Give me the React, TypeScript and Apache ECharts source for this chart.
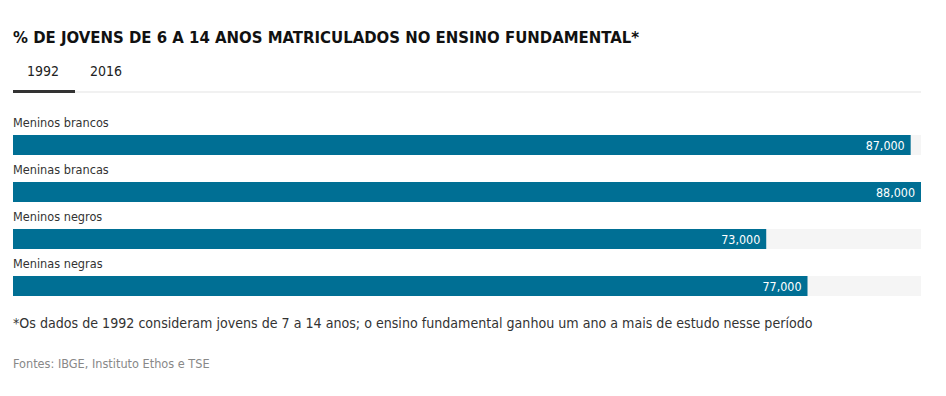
import React, { useEffect, useRef } from "react";
import * as echarts from "echarts";

const categories = ["Meninos brancos", "Meninas brancas", "Meninos negros", "Meninas negras"];
const values1992 = [87, 88, 73, 77];
const tabLabels = ["1992", "2016"];
const titleText = "% DE JOVENS DE 6 A 14 ANOS MATRICULADOS NO ENSINO FUNDAMENTAL*";
const noteText = "*Os dados de 1992 consideram jovens de 7 a 14 anos; o ensino fundamental ganhou um ano a mais de estudo nesse período";
const sourceText = "Fontes: IBGE, Instituto Ethos e TSE";
const xMax = 88;

const FONT = "'DejaVu Sans Condensed', 'Liberation Sans Narrow', 'Noto Sans', sans-serif";

export default function App() {
  const ref = useRef<HTMLDivElement>(null);
  useEffect(() => {
    if (!ref.current) return;
    const chart = echarts.init(ref.current, null, { renderer: "svg" });
    chart.setOption({
      animation: false,
      textStyle: { fontFamily: FONT },
      grid: { left: 13, right: 25, top: 121.5, bottom: 396 - 309.5, containLabel: false },
      xAxis: { type: "value", min: 0, max: xMax, show: false },
      yAxis: {
        type: "category",
        data: categories,
        inverse: true,
        show: false,
      },
      series: [
        {
          type: "bar",
          data: categories.map(() => xMax),
          barWidth: 20,
          itemStyle: { color: "#f5f5f5" },
          silent: true,
          label: {
            show: true,
            position: [0, -13],
            verticalAlign: "middle",
            align: "left",
            formatter: "{b}",
            color: "#333333",
            fontSize: 12.6,
            fontFamily: FONT,
          },
          z: 1,
        },
        {
          type: "bar",
          data: values1992,
          barWidth: 20,
          barGap: "-100%",
          itemStyle: { color: "#006f94" },
          label: {
            show: true,
            position: "insideRight",
            distance: 6,
            color: "#ffffff",
            fontSize: 12.4,
            fontFamily: FONT,
            formatter: (p: any) => Number(p.value).toFixed(3).replace(".", ","),
          },
          z: 2,
        },
      ],
      graphic: [
        {
          type: "text",
          left: 13,
          top: 28.5,
          style: { text: titleText, fontSize: 16.6, fontWeight: "bold", fill: "#111111", fontFamily: FONT },
        },
        {
          type: "text",
          left: 27,
          top: 64,
          style: { text: tabLabels[0], fontSize: 14, fill: "#222222", fontFamily: FONT },
        },
        {
          type: "text",
          left: 90,
          top: 64,
          style: { text: tabLabels[1], fontSize: 14, fill: "#222222", fontFamily: FONT },
        },
        {
          type: "rect",
          shape: { x: 13, y: 91.5, width: 908, height: 1 },
          style: { fill: "#e3e3e3" },
        },
        {
          type: "rect",
          shape: { x: 13, y: 90, width: 62, height: 3 },
          style: { fill: "#333333" },
        },
        {
          type: "text",
          left: 13,
          top: 315.5,
          style: { text: noteText, fontSize: 14.1, fill: "#333333", fontFamily: FONT },
        },
        {
          type: "text",
          left: 13,
          top: 357,
          style: { text: sourceText, fontSize: 12.6, fill: "#888888", fontFamily: FONT },
        },
      ],
    });
    return () => chart.dispose();
  }, []);
  return (
    <div
      ref={ref}
      style={{ position: "fixed", left: 0, top: 0, width: 946, height: 396, background: "#ffffff" }}
    />
  );
}
